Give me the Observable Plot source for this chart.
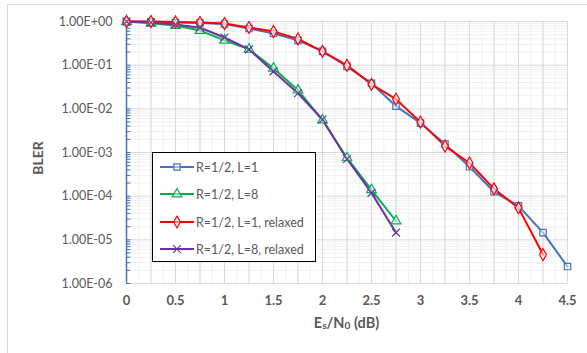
<!DOCTYPE html>
<html><head><meta charset="utf-8">
<script src="https://cdn.jsdelivr.net/npm/d3@7"></script>
<script src="https://cdn.jsdelivr.net/npm/@observablehq/plot@0.6"></script>
<style>
body{margin:0;background:#fff;font-family:Lato,"Open Sans",sans-serif;}
#wrap{position:relative;width:587px;height:353px;overflow:hidden;}
#frame{position:absolute;left:7px;top:4px;width:600px;height:400px;border:1px solid #d9d9d9;box-sizing:border-box;}
#chart{position:absolute;left:0;top:0;}
#legend{position:absolute;left:152px;top:152px;width:164px;height:110px;border:1px solid #000;background:#fff;box-sizing:border-box;}
.lg{position:absolute;left:0;height:20px;display:flex;align-items:center;color:#595959;font-size:12.5px;white-space:nowrap;}
#xtitle{position:absolute;left:0;width:587px;top:314px;text-align:center;padding-left:106px;box-sizing:border-box;font-weight:bold;color:#595959;font-size:14.5px;}
#xtitle sub{font-size:70%;vertical-align:baseline;position:relative;top:1px;}
#ytitle{position:absolute;left:37px;top:158px;transform:translate(-50%,-50%) rotate(-90deg);font-weight:bold;color:#595959;font-size:14px;}
</style></head>
<body>
<div id="wrap">
<div id="frame"></div>
<div id="chart"></div>
<div id="legend"></div>
<div id="xtitle">E<sub>s</sub>/N<sub>0</sub> (dB)</div>
<div id="ytitle">BLER</div>
</div>
<script>
const esn0 = [0,0.25,0.5,0.75,1,1.25,1.5,1.75,2,2.25,2.5,2.75,3,3.25,3.5,3.75,4,4.25,4.5];
const blerL1  = [1.0,0.99,0.95,0.93,0.88,0.69,0.53,0.37,0.207,0.094,0.0385,0.0115,0.0047,0.00156,4.7e-4,1.26e-4,6.0e-5,1.46e-5,2.44e-6];
const blerL8  = [1.0,0.91,0.81,0.62,0.37,0.23,0.085,0.0267,0.0055,7.5e-4,1.4e-4,2.7e-5];
const blerL1r = [1.0,1.0,0.974,0.95,0.90,0.73,0.59,0.40,0.207,0.099,0.0365,0.0166,0.00496,0.0014,5.75e-4,1.47e-4,5.4e-5,4.6e-6];
const blerL8r = [1.0,0.95,0.85,0.72,0.43,0.23,0.072,0.0228,0.0057,7.1e-4,1.19e-4,1.46e-5];
const seriesNames = ["R=1/2, L=1","R=1/2, L=8","R=1/2, L=1, relaxed","R=1/2, L=8, relaxed"];
const seriesColors = ["#4472C4","#00B050","#FF0000","#7030A0"];
const seriesSymbols = ["square","triangle","diamond","times"];
const xTicks = [0,0.5,1,1.5,2,2.5,3,3.5,4,4.5];
const yTicks = [1,1e-1,1e-2,1e-3,1e-4,1e-5,1e-6];
const yTickLabels = ["1.00E+00","1.00E-01","1.00E-02","1.00E-03","1.00E-04","1.00E-05","1.00E-06"];

const allSeries = [blerL1, blerL8, blerL1r, blerL8r];
const data = allSeries.flatMap((vals, s) => vals.map((v, i) => ({x: esn0[i], y: v, s})));

const minorX = d3.range(0, 4.5001, 0.125);
const majorX = d3.range(0, 4.5001, 0.25);
const minorY = [];
for (let e = -6; e < 0; e++) for (let k = 2; k <= 9; k++) minorY.push(k * Math.pow(10, e));

const marks = [
  Plot.ruleX(minorX, {stroke: "#f0f0f0", strokeWidth: 1}),
  Plot.ruleY(minorY, {stroke: "#f0f0f0", strokeWidth: 1}),
  Plot.ruleX(majorX, {stroke: "#d9d9d9", strokeWidth: 1}),
  Plot.ruleY(yTicks, {stroke: "#d9d9d9", strokeWidth: 1}),
  Plot.ruleX([0], {stroke: "#4472C4", strokeWidth: 1.5}),
  Plot.ruleY(minorY.concat(yTicks), {x1: 0, x2: 0.045, stroke: "#4472C4", strokeWidth: 1}),
  Plot.axisY({ticks: yTicks, tickFormat: (d) => yTickLabels[yTicks.indexOf(d)], tickSize: 0, tickPadding: 14, label: null, fontSize: 12.5, fill: "#595959"}),
  Plot.axisX({ticks: xTicks, tickFormat: d => String(d), tickSize: 0, tickPadding: 12, label: null, fontSize: 13, fontWeight: "bold", fill: "#595959"})
];
allSeries.forEach((vals, s) => {
  const d = data.filter(p => p.s === s);
  marks.push(Plot.line(d, {x: "x", y: "y", stroke: seriesColors[s], strokeWidth: 2}));
});
allSeries.forEach((vals, s) => {
  const d = data.filter(p => p.s === s);
  marks.push(Plot.dot(d, {x: "x", y: "y", stroke: seriesColors[s], fill: seriesSymbols[s] === "times" ? "none" : "white", fillOpacity: 0.5, symbol: seriesSymbols[s], r: 3.6, strokeWidth: 1.2}));
});

const chart = Plot.plot({
  width: 587, height: 353,
  marginLeft: 126, marginRight: 20, marginTop: 21, marginBottom: 70,
  style: {fontFamily: "Lato, 'Open Sans', sans-serif", background: "transparent"},
  x: {domain: [0, 4.5]},
  y: {type: "log", domain: [1e-6, 1]},
  marks
});
document.getElementById("chart").appendChild(chart);

const symMap = {square: d3.symbolSquare, triangle: d3.symbolTriangle, diamond: d3.symbolDiamond, times: d3.symbolTimes};
const legend = document.getElementById("legend");
const rowTops = [4, 31, 59, 86];
seriesNames.forEach((name, i) => {
  const row = document.createElement("div");
  row.className = "lg";
  row.style.top = rowTops[i] + "px";
  row.style.left = "7px";
  const path = d3.symbol(symMap[seriesSymbols[i]], 40)();
  row.innerHTML = `<svg width="34" height="20" style="margin-right:2px"><line x1="0" x2="34" y1="10" y2="10" stroke="${seriesColors[i]}" stroke-width="2"/><path d="${path}" transform="translate(17,10)" fill="${seriesSymbols[i]==='times'?'none':'white'}" fill-opacity="0.5" stroke="${seriesColors[i]}" stroke-width="1.2"/></svg><span>${name}</span>`;
  legend.appendChild(row);
});
</script>
</body></html>
